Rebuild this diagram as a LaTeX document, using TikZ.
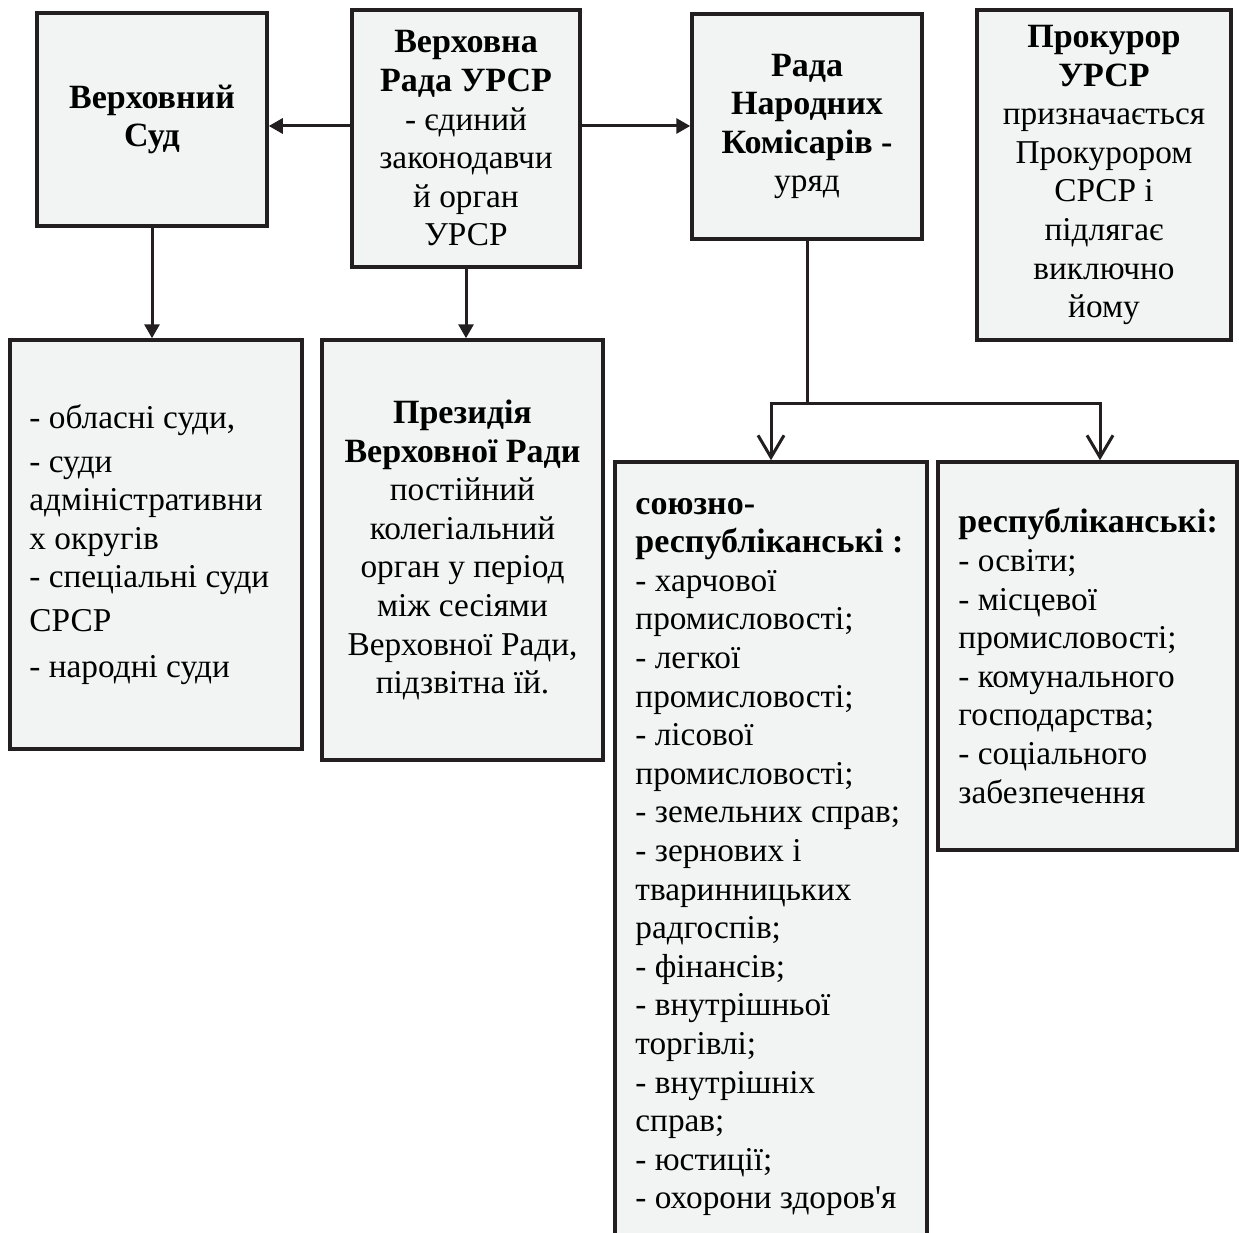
\documentclass[tikz,border=0pt]{standalone}
\usepackage{fontspec}
\setmainfont{Liberation Serif}[Ligatures=TeXOff]
\usetikzlibrary{arrows.meta}
\definecolor{boxfill}{HTML}{F2F3F3}
\definecolor{ink}{HTML}{231F20}
\newcommand{\hd}[1]{{\fontsize{34}{38.6}\selectfont\bfseries #1}}
\tikzset{
  box/.style={draw=ink, fill=boxfill, line width=3.5pt, inner sep=0pt,
    font=\fontsize{33.3}{38.6}\selectfont, text=black},
  cbox/.style={box, align=center},
  ltxt/.style={inner sep=0pt, align=left, anchor=west,
    font=\fontsize{33.3}{38.6}\selectfont, text=black},
  arr/.style={draw=ink, line width=3pt, -{Triangle[length=14pt,width=15pt]}},
  barb/.style={draw=ink, line width=3pt, -{Straight Barb[length=22pt,width=26pt]}},
  ln/.style={draw=ink, line width=3pt}
}
\begin{document}
\begin{tikzpicture}[x=1pt,y=-1pt]
\useasboundingbox (0,0) rectangle (1239,1233);

\node[cbox, minimum width=230pt, minimum height=213pt] (sud) at (152,119.5)
  {\hd{Верховний}\\\hd{Суд}};
\node[cbox, minimum width=228pt, minimum height=257pt] (vr) at (466,138.5)
  {\hd{Верховна}\\\hd{Рада УРСР}\\- єдиний\\законодавчи\\й орган\\УРСР};
\node[cbox, minimum width=230pt, minimum height=225pt] (rnk) at (807,126.5)
  {\hd{Рада}\\\hd{Народних}\\\hd{Комісарів -}\\уряд};
\node[cbox, minimum width=254pt, minimum height=330pt] (prok) at (1104,175)
  {\hd{Прокурор}\\\hd{УРСР}\\призначається\\Прокурором\\СРСР і\\підлягає\\виключно\\йому};

\node[box, minimum width=292pt, minimum height=409pt] (courts) at (156,544.5) {};
\node[ltxt] (courtsT) at ([xshift=21pt]courts.west)
  {- обласні суди,\\[5pt]- суди\\адміністративни\\х округів\\- спеціальні суди\\[5pt]СРСР\\[7pt]- народні суди};
\node[cbox, minimum width=281pt, minimum height=420pt] (prez) at (462.5,550)
  {\hd{Президія}\\\hd{Верховної Ради}\\постійний\\колегіальний\\орган у період\\між сесіями\\Верховної Ради,\\підзвітна їй.};
\node[box, minimum width=312pt, minimum height=788pt] (union) at (771,856) {};
\node[ltxt] (unionT) at ([xshift=22pt,yshift=-1pt]union.west)
  {\hd{союзно-}\\\hd{республіканські :}\\- харчової\\промисловості;\\- легкої\\промисловості;\\- лісової\\промисловості;\\- земельних справ;\\- зернових і\\тваринницьких\\радгоспів;\\- фінансів;\\- внутрішньої\\торгівлі;\\- внутрішніх\\справ;\\- юстиції;\\- охорони здоров'я};
\node[box, minimum width=299pt, minimum height=388pt] (rep) at (1087.5,656) {};
\node[ltxt] (repT) at ([xshift=22pt]rep.west)
  {\hd{республіканські:}\\- освіти;\\- місцевої\\промисловості;\\- комунального\\господарства;\\- соціального\\забезпечення};

\draw[arr] (vr.west |- 0,126) -- (sud.east |- 0,126);
\draw[arr] (vr.east |- 0,126) -- (rnk.west |- 0,126);
\draw[arr] (sud.south) -- (courts.north -| sud.south);
\draw[arr] (vr.south) -- (prez.north -| vr.south);

\coordinate (bl) at (771,403);
\coordinate (br) at (1100,403);
\draw[ln] (rnk.south) -- (rnk.south |- bl);
\draw[ln] ([xshift=-1.5pt]bl) -- ([xshift=1.5pt]br);
\draw[barb] (bl) -- (union.north);
\draw[barb] (br) -- (br |- rep.north);
\end{tikzpicture}
\end{document}
